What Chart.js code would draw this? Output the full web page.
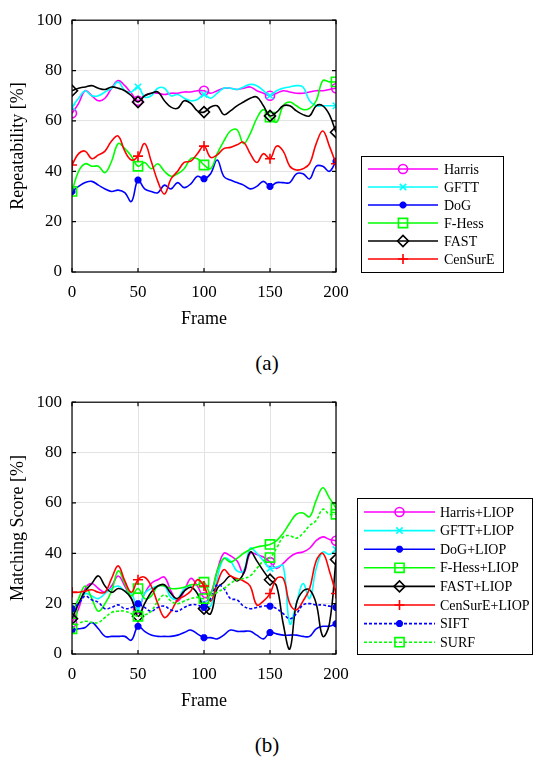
<!DOCTYPE html>
<html><head><meta charset="utf-8">
<script src="https://cdn.jsdelivr.net/npm/chart.js@4"></script>
<style>
body{margin:0;background:#fff;width:534px;height:759px;position:relative;overflow:hidden;font-family:"Liberation Serif","Times New Roman",serif;}
.cv{position:absolute;left:0;width:534px;height:340px;}
.cap{position:absolute;left:0;width:534px;text-align:center;font-size:21px;line-height:24px;color:#000;}
</style></head><body>
<div class="cv" style="top:0"><canvas id="ca"></canvas></div>
<div class="cap" style="top:351px">(a)</div>
<div class="cv" style="top:382px"><canvas id="cb"></canvas></div>
<div class="cap" style="top:733px">(b)</div>
<script>
// ---- data ----
const frames = [0,5,10,15,20,25,30,35,40,45,50,55,60,65,70,75,80,85,90,95,100,105,110,115,120,125,130,135,140,145,150,155,160,165,170,175,180,185,190,195,200];
const xTicks = [0,50,100,150,200];
const yTicks = [0,20,40,60,80,100];

const labelsA = ['Harris','GFTT','DoG','F-Hess','FAST','CenSurE'];
const harris  = [63,67,72,70,68,69,73,76,74,71,68,70,71,71,70.5,71,71,71.5,71.5,72,72,71,72,73,73,72.5,73,73.5,72,71,70,71,72,71.5,71,71,71.5,72,72,72.5,73];
const gftt    = [65.5,69,72,70,70,71.5,73,75.5,72,71.5,73.5,69.5,70,73,73,70,70.5,69,68,68.5,70.5,69,71,73,73,72.5,73.5,74.5,74,72,70,72,73,73.5,74,73.5,68,66,66,66,66];
const dog     = [32,34,35.5,36,34.5,33,32,32.5,31.5,28,36.5,33,32,31.5,34.5,33,35.5,33.5,35,38,37,39,44.5,38,36.5,35.5,34.5,33,34,36,34,35.5,35.5,35.5,39,39,37,42,42,40,44];
const fhess   = [32,40,43,42,42,39.5,44,51,49,46,42,43.5,41,43,40,38,39,41,45,45,42.5,41,47,52,56,56.5,51,55,61,64.5,61.5,59.5,66,67.5,66,64.5,65,68,76,75.5,75.5];
const fast    = [72,73,73.5,74,73,72.5,73.5,73,72,70,67.5,70,71,71.5,68,65.5,65,68,67,64,63.5,65.5,66,62.5,64,66,67.5,69,69.5,66,62,63.5,66,66,64,62.5,62,66,66,62.5,55.5];
const censure = [42.5,47,48,45,46.5,48,52,54,48,44.5,46,51,44,36,31,37,40,43.5,44,47,50,45.5,46.5,49,49.5,50.5,51.5,47,43.5,47,45,50,48,42,40.5,41,43,51,56,50,43];

const labelsB = ['Harris+LIOP','GFTT+LIOP','DoG+LIOP','F-Hess+LIOP','FAST+LIOP','CenSurE+LIOP','SIFT','SURF'];
const harrisL  = [12.5,18,26,28,26,24.5,27,31,27,22,18,24,28,29.5,30.5,25,21,25,30,27,22.5,24,33,40,39,37,32,40,39.5,38.5,36.5,34,36,38.5,40,40.5,42,45,46.5,45.5,45];
const gfttL    = [16,20,24,23,22,24,26,27,25,24,18,24,26,27,27,22.5,22,26,27,24,20,19,30,38,37,33,33,42,40,37,34,34.5,35,12,20,28,22,34,40.5,39.5,41.5];
const dogL     = [9.5,10,10.5,12.5,10,7,7,7,7,5.5,11,9,7.5,7,7,7,7.5,8.5,9.5,8,6.5,6.5,6,7.5,9.5,9,9,9,7.5,6,8.5,8,7.5,7.5,7.5,7,7,10,11,11,12];
const fhessL   = [16,22,27,22,17,20,25,33,28,23,26,22,23,27,27,26,26,26.5,27.5,27.5,28.5,24,33,38,36.5,38,40,41.5,42.5,43,43.5,45,48,52,55.5,56,54.5,61,66,62,58];
const fastL    = [14,20,25,28,31,27,24.5,26,25,22,15,20,24.5,27,27.5,24,22,25,26.5,24,18,16,26,28.5,31,29,32,40.5,37,33,29.5,27,12,2,20,25,25.5,20,7,12,37.5];
const censureL = [24.5,24.5,25,25.5,24.5,24.5,30,35,29,24.5,29.5,30.5,27,20,14.5,17,21.5,23,25,29.5,27,21,28,33.5,31,30,29,27,19.5,21,24,30,30,20,17.5,21,26,37,40,33,24];
const sift     = [18,20,23,21.5,20.5,18,18.5,19.5,18,18.5,20,18.5,17,18.5,19,17.5,17,18.5,19.5,19.5,18.5,22,27.5,26,22,21.5,19,18,18.5,19,19,18,16,14,16,19.5,20,19.5,19.5,19,18.5];
const surf     = [10,12,13,12.5,12.5,14.5,16.5,17,17,16,15,15.5,17,21,23.5,21,20,21,22,22.5,22,23,24.5,26,28,29.5,30,31,34,37,38.3,42,46.5,47,46,48,51,53,57.5,55.5,55.5];

// ---- styles ----
const MAG='#ff00ff', CYA='#00ffff', BLU='#0000ff', GRN='#00ff00', BLK='#000000', RED='#ff0000';
const stHarris = {color:MAG, style:'circle', r:4.5, fill:false};
const stGftt   = {color:CYA, style:'crossRot', r:4.5, fill:false};
const stDog    = {color:BLU, style:'star', r:3.5, fill:true, bw:2.5};
const stFhess  = {color:GRN, style:'rect', r:6.5, fill:false};
const stFast   = {color:BLK, style:'rectRot', r:5.5, fill:false};
const stCen    = {color:RED, style:'cross', r:5, fill:false};

const FONT = '"Liberation Serif","Times New Roman",serif';

function ds(label, values, st, dash){
  return {
    label,
    data: frames.map((f,i)=>({x:f, y:values[i]})),
    borderColor: st.color,
    backgroundColor: st.fill ? st.color : 'rgba(0,0,0,0)',
    borderWidth: 1.6,
    borderDash: dash || [],
    pointStyle: st.style,
    pointRadius: c => (c.raw && c.raw.x % 50 === 0) ? st.r : 0,
    pointHoverRadius: c => (c.raw && c.raw.x % 50 === 0) ? st.r : 0,
    pointBorderWidth: st.bw || 1.6,
    pointBorderColor: st.color,
    pointBackgroundColor: st.fill ? st.color : 'rgba(0,0,0,0)',
    tension: 0.4,
    fill: false,
    _st: st
  };
}

const boxPlugin = {
  id:'boxPlugin',
  afterDatasetsDraw(chart){
    const {ctx, chartArea:a, scales} = chart;
    ctx.save();
    ctx.strokeStyle = '#000'; ctx.lineWidth = 1.2;
    ctx.strokeRect(a.left, a.top, a.right-a.left, a.bottom-a.top);
    const L = 4;
    ctx.beginPath();
    xTicks.forEach(v=>{
      const x = scales.x.getPixelForValue(v);
      ctx.moveTo(x, a.bottom); ctx.lineTo(x, a.bottom-L);
      ctx.moveTo(x, a.top); ctx.lineTo(x, a.top+L);
    });
    yTicks.forEach(v=>{
      const y = scales.y.getPixelForValue(v);
      ctx.moveTo(a.left, y); ctx.lineTo(a.left+L, y);
      ctx.moveTo(a.right, y); ctx.lineTo(a.right-L, y);
    });
    ctx.stroke();
    ctx.restore();
  }
};

const legendPlugin = {
  id:'boxLegend',
  afterDraw(chart, args, o){
    const ctx = chart.ctx;
    ctx.save();
    ctx.fillStyle = '#fff';
    ctx.fillRect(o.x, o.y, o.w, o.h);
    ctx.strokeStyle = '#000'; ctx.lineWidth = 1;
    ctx.strokeRect(o.x+0.5, o.y+0.5, o.w, o.h);
    ctx.font = o.fontSize + 'px ' + FONT;
    ctx.textBaseline = 'middle';
    chart.data.datasets.forEach((d,i)=>{
      const y = o.y + o.first + i*o.step;
      ctx.strokeStyle = d.borderColor;
      ctx.lineWidth = d.borderWidth;
      ctx.setLineDash(d.borderDash || []);
      ctx.beginPath(); ctx.moveTo(o.x + o.l1, y); ctx.lineTo(o.x + o.l2, y); ctx.stroke();
      ctx.setLineDash([]);
      const st = d._st;
      ctx.fillStyle = st.fill ? st.color : 'rgba(0,0,0,0)';
      ctx.strokeStyle = st.color;
      ctx.lineWidth = st.bw || 1.6;
      Chart.helpers.drawPoint(ctx, {pointStyle: st.style, radius: st.r, rotation: 0, borderWidth: st.bw || 1.6}, o.x + (o.l1+o.l2)/2, y);
      ctx.fillStyle = '#000';
      ctx.fillText(d.label, o.x + o.tx, y + 1);
    });
    ctx.restore();
  }
};

function makeChart(id, datasets, yTitle, leg){
  return new Chart(document.getElementById(id), {
    type:'line',
    data:{datasets},
    options:{
      responsive:true, maintainAspectRatio:false, animation:false,
      events:[],
      layout:{padding:{left:0, right:198, top:14, bottom:6}},
      plugins:{legend:{display:false}, tooltip:{enabled:false}, boxLegend:leg},
      scales:{
        x:{type:'linear', min:0, max:200,
           afterBuildTicks:s=>{ s.ticks = xTicks.map(v=>({value:v})); },
           afterFit:s=>{ s.height = 62; },
           grid:{color:'#e3e3e3', lineWidth:1, drawTicks:false},
           border:{display:false},
           ticks:{padding:10, color:'#000', font:{family:FONT, size:17}, maxRotation:0},
           title:{display:true, text:'Frame', color:'#000', font:{family:FONT, size:18}, padding:{top:2, bottom:4}}
        },
        y:{type:'linear', min:0, max:100,
           afterBuildTicks:s=>{ s.ticks = yTicks.map(v=>({value:v})); },
           afterFit:s=>{ s.width = 72; },
           grid:{color:'#e3e3e3', lineWidth:1, drawTicks:false},
           border:{display:false},
           ticks:{padding:10, color:'#000', font:{family:FONT, size:17}},
           title:{display:true, text:yTitle, color:'#000', font:{family:FONT, size:18}, padding:{top:7, bottom:0}}
        }
      }
    },
    plugins:[boxPlugin, legendPlugin]
  });
}

const dsA = [
  ds(labelsA[0], harris, stHarris),
  ds(labelsA[1], gftt, stGftt),
  ds(labelsA[2], dog, stDog),
  ds(labelsA[3], fhess, stFhess),
  ds(labelsA[4], fast, stFast),
  ds(labelsA[5], censure, stCen)
];
dsA.forEach((d,i)=>{ d.order = dsA.length - i; });

const dsB = [
  ds(labelsB[0], harrisL, stHarris),
  ds(labelsB[1], gfttL, stGftt),
  ds(labelsB[2], dogL, stDog),
  ds(labelsB[3], fhessL, stFhess),
  ds(labelsB[4], fastL, stFast),
  ds(labelsB[5], censureL, stCen),
  ds(labelsB[6], sift, stDog, [3,2]),
  ds(labelsB[7], surf, stFhess, [3,2])
];
dsB.forEach((d,i)=>{ d.order = dsB.length - i; });

makeChart('ca', dsA, 'Repeatability [%]', {x:361, y:156, w:142, h:116, first:13, step:18, l1:7, l2:77, tx:83, fontSize:14});
makeChart('cb', dsB, 'Matching Score [%]', {x:357, y:116, w:175, h:156, first:14, step:18.6, l1:7, l2:78, tx:83, fontSize:14});
</script>
</body></html>
